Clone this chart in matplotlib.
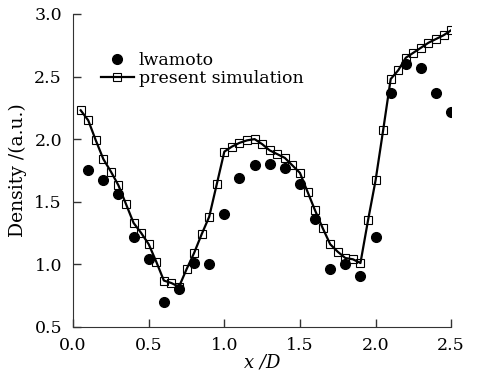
import matplotlib
matplotlib.use('Agg')
import matplotlib.pyplot as plt

# Iwamoto measurements
exp_x = [0.1, 0.2, 0.3, 0.4, 0.5, 0.6, 0.7, 0.8, 0.9, 1.0, 1.1, 1.2, 1.3,
         1.4, 1.5, 1.6, 1.7, 1.8, 1.9, 2.0, 2.1, 2.2, 2.3, 2.4, 2.5]
exp_y = [1.75, 1.67, 1.56, 1.22, 1.04, 0.70, 0.80, 1.01, 1.00, 1.40, 1.69, 1.79, 1.80,
         1.77, 1.64, 1.36, 0.96, 1.00, 0.91, 1.22, 2.37, 2.60, 2.57, 2.37, 2.22]

# present simulation
sim_x = [0.05, 0.10, 0.15, 0.20, 0.25, 0.30, 0.35, 0.40, 0.45, 0.50,
         0.55, 0.60, 0.65, 0.70, 0.75, 0.80, 0.85, 0.90, 0.95, 1.00,
         1.05, 1.10, 1.15, 1.20, 1.25, 1.30, 1.35, 1.40, 1.45, 1.50,
         1.55, 1.60, 1.65, 1.70, 1.75, 1.80, 1.85, 1.90, 1.95, 2.00,
         2.05, 2.10, 2.15, 2.20, 2.25, 2.30, 2.35, 2.40, 2.45, 2.50]
sim_y = [2.23, 2.15, 1.99, 1.84, 1.74, 1.63, 1.48, 1.33, 1.25, 1.16,
         1.02, 0.87, 0.85, 0.82, 0.96, 1.09, 1.24, 1.38, 1.64, 1.90,
         1.94, 1.97, 1.99, 2.00, 1.96, 1.91, 1.88, 1.85, 1.79, 1.73,
         1.58, 1.43, 1.29, 1.16, 1.10, 1.05, 1.04, 1.01, 1.35, 1.67,
         2.07, 2.48, 2.55, 2.65, 2.69, 2.73, 2.77, 2.80, 2.83, 2.87]

plt.rcParams['font.family'] = 'DejaVu Serif'
plt.rcParams['font.size'] = 12.5

fig = plt.figure(figsize=(4.81, 3.77), dpi=100)
ax = fig.add_axes([0.152, 0.133, 0.786, 0.830])

ax.plot(exp_x, exp_y, 'o', color='black', markersize=7, label='lwamoto')
ax.plot(sim_x, sim_y, '-s', color='black', linewidth=1.6, markersize=5.5,
        markerfacecolor='none', markeredgewidth=0.8, label='present simulation')

ax.set_xlim(0, 2.5)
ax.set_ylim(0.5, 3.0)
ax.set_xticks([0.0, 0.5, 1.0, 1.5, 2.0, 2.5])
ax.set_yticks([0.5, 1.0, 1.5, 2.0, 2.5, 3.0])
ax.spines['top'].set_visible(False)
ax.spines['right'].set_visible(False)
for s in ['left', 'bottom']:
    ax.spines[s].set_color('#333333')
ax.tick_params(direction='in', length=6, width=1, color='#333333')
ax.tick_params(axis='x', pad=7)
ax.tick_params(axis='y', pad=8)

ax.set_xlabel('x /D', fontstyle='italic', fontsize=13, labelpad=0)
ax.set_ylabel('Density /(a.u.)', fontsize=13.5, labelpad=5)

ax.legend(loc='upper left', bbox_to_anchor=(0.05, 0.905), frameon=False,
          handlelength=1.9, handletextpad=0.3, labelspacing=0.05, borderpad=0)

fig.savefig('out.png', dpi=100)
